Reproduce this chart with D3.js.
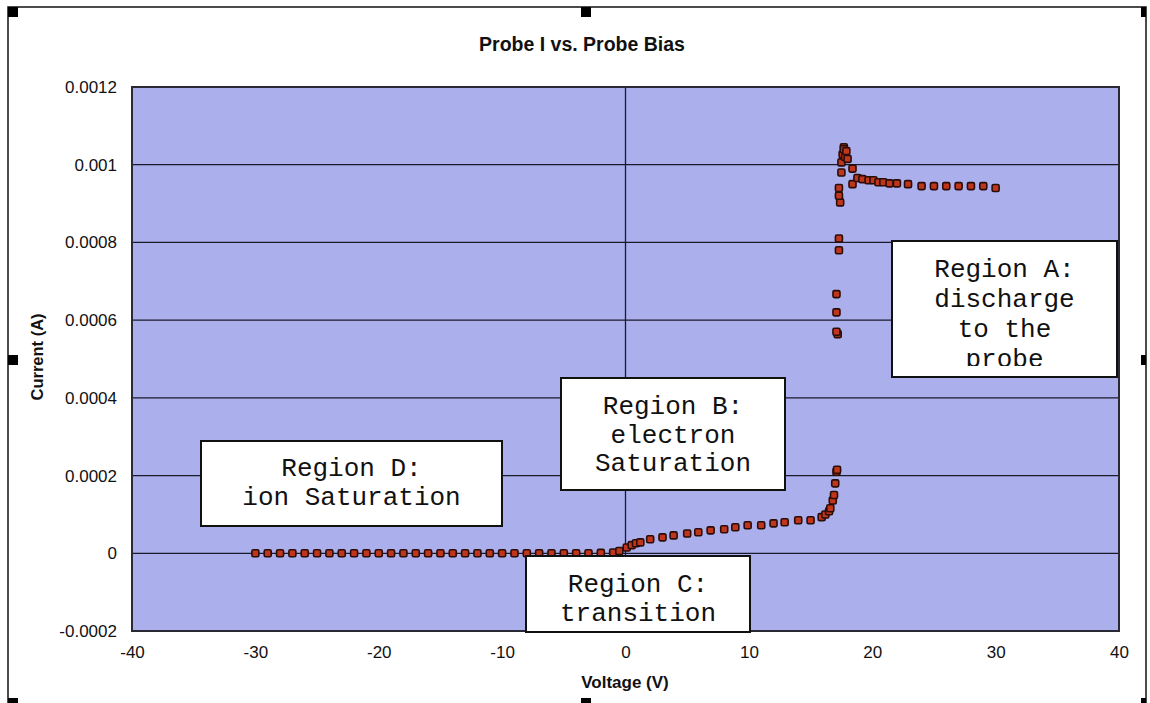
<!DOCTYPE html>
<html>
<head>
<meta charset="utf-8">
<script src="https://d3js.org/d3.v7.min.js"></script>
<style>
  body { margin: 0; background: #fff; }
  svg text { font-family: "Liberation Sans", Arial, sans-serif; fill: #111; }
  .note text { font-family: "Liberation Mono", "Courier New", monospace; font-size: 26px; fill: #111; }
</style>
</head>
<body>
<svg id="chart" width="1150" height="703"></svg>
<script>
// probe sweep
var voltage = [-30,-29,-28,-27,-26,-25,-24,-23,-22,-21,-20,-19,-18,-17,-16,-15,-14,-13,-12,-11,-10,-9,-8,-7,-6,-5,-4,-3,-2,
  -1,-0.5,0.1,0.5,0.85,1.2,
  2,3,3.9,5,5.9,6.9,8,8.9,9.9,11,12,12.9,14,15,15.9,16.2,16.5,16.6,16.8,16.9,17,17.1,17.15,
  17.2,17.1,17.1,17.1,17.3,17.3,17.4,17.3,17.3,17.5,17.5,17.6,17.7,17.7,17.8,17.9,18,18.4,18.4,
  18.8,19.2,19.7,20.1,20.5,20.9,21.4,22,22.9,24,25,26,27,28,29,30];
var current = [0,0,0,0,0,0,0,0,0,0,0,0,0,0,0,0,0,0,0,0,0,0,0,0,0,0,0,0,0.000001,
  0.000002,0.000006,0.000015,0.000021,0.000026,0.000028,
  0.000036,0.000041,0.000046,0.000051,0.000054,0.000059,0.000062,0.000067,0.000072,0.000072,0.000077,0.00008,0.000085,0.000085,0.000093,0.0001,0.000108,0.000116,0.000136,0.00015,0.00018,0.00021,0.000215,
  0.000564,0.00057,0.00062,0.000667,0.00078,0.00081,0.000903,0.00092,0.00094,0.00098,0.001006,0.001027,0.001045,0.00104,0.00102,0.001035,0.001015,0.00099,0.00095,
  0.000966,0.000963,0.00096,0.00096,0.000955,0.000955,0.000952,0.000952,0.00095,0.000945,0.000945,0.000945,0.000945,0.000945,0.000945,0.00094];

var xTicks = [-40,-30,-20,-10,0,10,20,30,40];
var xTickLabels = ["-40","-30","-20","-10","0","10","20","30","40"];
var yTicks = [-0.0002,0,0.0002,0.0004,0.0006,0.0008,0.001,0.0012];
var yTickLabels = ["-0.0002","0","0.0002","0.0004","0.0006","0.0008","0.001","0.0012"];

var title = "Probe I vs. Probe Bias";
var xTitle = "Voltage (V)";
var yTitle = "Current (A)";

// text boxes drawn over the plot: box = [x, y, w, h], clipped at clipBottom
var notes = [
  {lines: ["Region D:", "ion Saturation"], box: [201, 441, 301, 85], first: 476, step: 28.5, clipBottom: 526},
  {lines: ["Region B:", "electron", "Saturation"], box: [561, 378, 224, 112], first: 414, step: 28.5, clipBottom: 490},
  {lines: ["Region C:", "transition"], box: [526, 556, 224, 76], first: 592, step: 29, clipBottom: 632},
  {lines: ["Region A:", "discharge", "to the", "probe"], box: [892, 241, 225, 136], first: 277, step: 30, clipBottom: 366}
];

var svg = d3.select("#chart");
var pLeft = 132, pRight = 1119, pTop = 87, pBottom = 631;

var x = d3.scaleLinear().domain([-40, 40]).range([pLeft, pRight]);
var y = d3.scaleLinear().domain([-0.0002, 0.0012]).range([pBottom, pTop]);

// outer frame with selection handles
svg.append("rect").attr("x", 8).attr("y", 7).attr("width", 1138).attr("height", 710)
  .attr("fill", "none").attr("stroke", "#111").attr("stroke-width", 1.5);
var handles = [[8,7],[581,7],[1146,7],[8,355],[1146,355],[8,703],[581,703],[1146,703]];
svg.selectAll(".handle").data(handles).enter().append("rect")
  .attr("x", function(d) { return d[0] === 1146 ? d[0] - 5 : d[0]; })
  .attr("y", function(d) { return d[1] === 703 ? d[1] - 5 : d[1]; })
  .attr("width", function(d) { return d[0] === 1146 ? 5 : 10; })
  .attr("height", function(d) { return d[1] === 703 ? 5 : 10; })
  .attr("fill", "#000");

// plot area
svg.append("rect").attr("x", pLeft).attr("y", pTop).attr("width", pRight - pLeft).attr("height", pBottom - pTop)
  .attr("fill", "#abafec");

svg.selectAll(".hgrid").data(yTicks).enter().append("line")
  .attr("x1", pLeft).attr("x2", pRight)
  .attr("y1", function(d) { return y(d); }).attr("y2", function(d) { return y(d); })
  .attr("stroke", "#1a1a2a").attr("stroke-width", 1.3);
svg.append("line").attr("x1", x(0)).attr("x2", x(0)).attr("y1", pTop).attr("y2", pBottom)
  .attr("stroke", "#1a1a2a").attr("stroke-width", 1.3);

svg.append("rect").attr("x", pLeft).attr("y", pTop).attr("width", pRight - pLeft).attr("height", pBottom - pTop)
  .attr("fill", "none").attr("stroke", "#2a2a35").attr("stroke-width", 2);

// axes
var yAxis = svg.append("g").attr("transform", "translate(" + pLeft + ",0)")
  .call(d3.axisLeft(y).tickValues(yTicks).tickSize(0).tickPadding(15)
    .tickFormat(function(d, i) { return yTickLabels[i]; }));
yAxis.select(".domain").remove();
yAxis.selectAll("text").style("font-family", "Liberation Sans, Arial, sans-serif").style("font-size", "17px").attr("fill", "#222");

var xAxis = svg.append("g").attr("transform", "translate(0," + pBottom + ")")
  .call(d3.axisBottom(x).tickValues(xTicks).tickSize(0).tickPadding(15)
    .tickFormat(function(d, i) { return xTickLabels[i]; }));
xAxis.select(".domain").remove();
xAxis.selectAll("text").style("font-family", "Liberation Sans, Arial, sans-serif").style("font-size", "17px").attr("fill", "#222");

// titles
svg.append("text").attr("x", 582).attr("y", 51).attr("text-anchor", "middle")
  .style("font-weight", "bold").style("font-size", "19.5px").text(title);
svg.append("text").attr("x", 625).attr("y", 688).attr("text-anchor", "middle")
  .style("font-weight", "bold").style("font-size", "17px").text(xTitle);
svg.append("text").attr("transform", "translate(43,357) rotate(-90)").attr("text-anchor", "middle")
  .style("font-weight", "bold").style("font-size", "16.5px").text(yTitle);

// data points
var pts = voltage.map(function(v, i) { return {v: v, c: current[i]}; });
svg.append("g").selectAll("rect").data(pts).enter().append("rect")
  .attr("x", function(d) { return x(d.v) - 3.5; })
  .attr("y", function(d) { return y(d.c) - 3.5; })
  .attr("width", 7).attr("height", 7).attr("rx", 1.5)
  .attr("fill", "#c0361c").attr("stroke", "#2a0c08").attr("stroke-width", 1.6);

// annotation boxes
var defs = svg.append("defs");
notes.forEach(function(n, i) {
  defs.append("clipPath").attr("id", "clip" + i).append("rect")
    .attr("x", n.box[0]).attr("y", n.box[1]).attr("width", n.box[2]).attr("height", n.clipBottom - n.box[1]);
  var g = svg.append("g").attr("class", "note");
  g.append("rect").attr("x", n.box[0]).attr("y", n.box[1]).attr("width", n.box[2]).attr("height", n.box[3])
    .attr("fill", "#fff").attr("stroke", "#111").attr("stroke-width", 2);
  g.append("g").attr("clip-path", "url(#clip" + i + ")").selectAll("text").data(n.lines).enter().append("text")
    .attr("x", n.box[0] + n.box[2] / 2)
    .attr("y", function(d, j) { return n.first + j * n.step; })
    .attr("text-anchor", "middle").text(function(d) { return d; });
});
</script>
</body>
</html>
